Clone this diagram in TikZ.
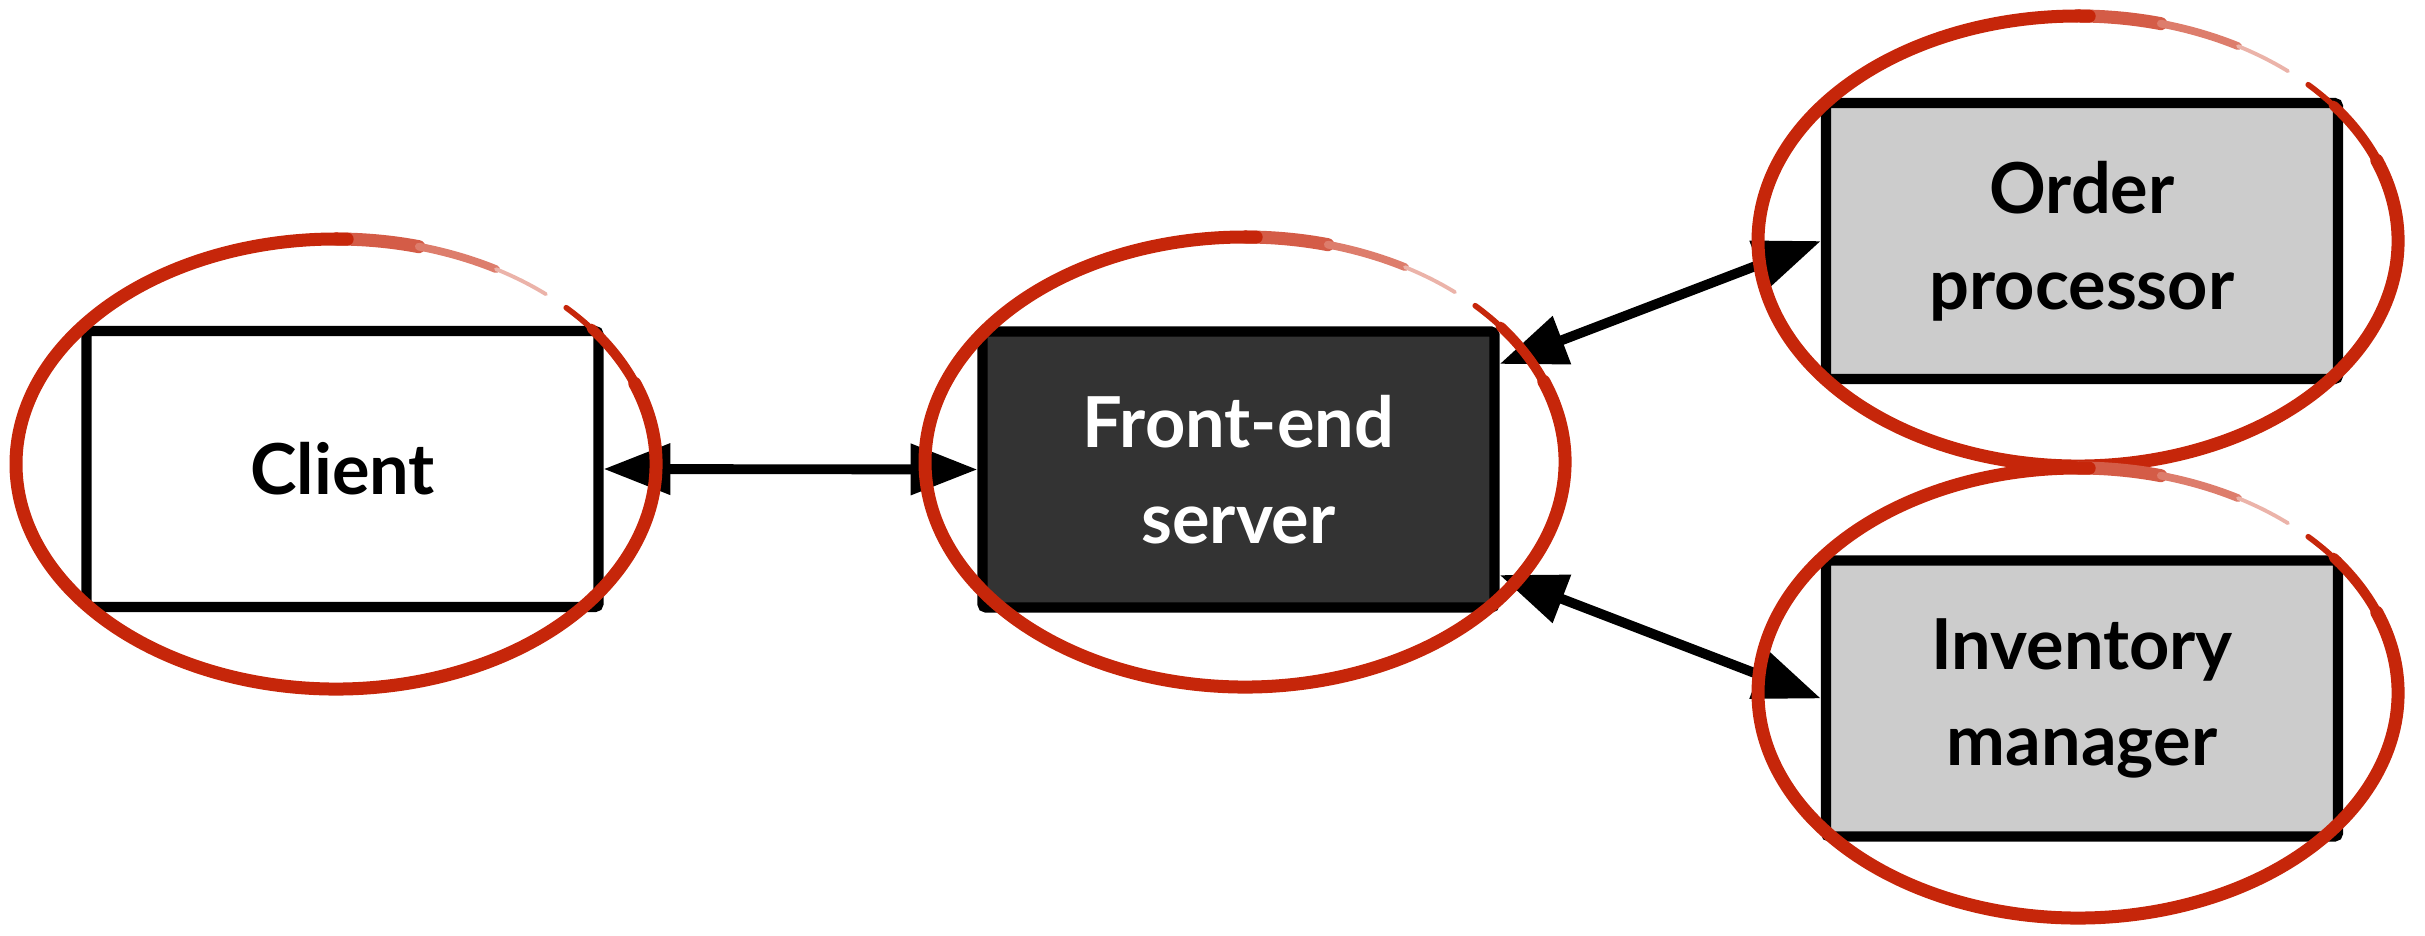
\documentclass[tikz,border=0pt]{standalone}
\usepackage{fontspec}
\setmainfont{Lato}
\usetikzlibrary{arrows.meta}
\definecolor{markred}{RGB}{198,38,10}
\definecolor{darkbox}{RGB}{51,51,51}
\definecolor{lightbox}{RGB}{204,204,204}
\tikzset{
  box/.style={draw=black, line width=2.9pt, rounded corners=1pt,
    minimum width=5.12cm, minimum height=2.76cm, align=center,
    font=\fontsize{20}{27.3}\selectfont\bfseries},
  link/.style={line width=2.8pt,
    {Triangle[length=19pt,width=14pt]}-{Triangle[length=19pt,width=14pt]}},
  ring/.style={draw=markred, line width=3.7pt, line cap=round}
}
\begin{document}
\begin{tikzpicture}
			\useasboundingbox (0,0) rectangle (24.25,9.35);
			\node[box, fill=white] (client) at (3.425,4.66) {Client};
			\node[box, fill=darkbox, text=white] (front) at (12.385,4.655) {Front-end\\server};
			\node[box, fill=lightbox] (order) at (20.82,6.94) {Order\\processor};
			\node[box, fill=lightbox] (inventory) at (20.82,2.365) {Inventory\\manager};
			\draw[link] (client.east) -- (front.west);
			\draw[link] (front.22) -- (order.west);
			\draw[link] (front.-22) -- (inventory.west);
			% hand-drawn red rings
			\foreach \cx/\cy in {3.36/4.71, 12.45/4.73, 20.78/6.94, 20.78/2.42} {
				\draw[ring, line width=1.6pt] ([shift={(44:3.2 and 2.25)}]\cx,\cy)
					arc[start angle=44, end angle=36, x radius=3.2, y radius=2.25];
				\draw[ring, line width=2.8pt] ([shift={(37:3.2 and 2.25)}]\cx,\cy)
					arc[start angle=37, end angle=20, x radius=3.2, y radius=2.25];
				\draw[ring, draw=markred!75] ([shift={(-270:3.2 and 2.25)}]\cx,\cy)
					arc[start angle=-270, end angle=-285, x radius=3.2, y radius=2.25];
				\draw[ring, line width=2.2pt, draw=markred!60] ([shift={(-285:3.2 and 2.25)}]\cx,\cy)
					arc[start angle=-285, end angle=-300, x radius=3.2, y radius=2.25];
				\draw[ring, line width=1.1pt, draw=markred!35] ([shift={(-300:3.2 and 2.25)}]\cx,\cy)
					arc[start angle=-300, end angle=-311, x radius=3.2, y radius=2.25];
				\draw[ring] ([shift={(21:3.2 and 2.25)}]\cx,\cy)
					arc[start angle=21, end angle=-272, x radius=3.2, y radius=2.25];
			}
		\end{tikzpicture}
\end{document}
